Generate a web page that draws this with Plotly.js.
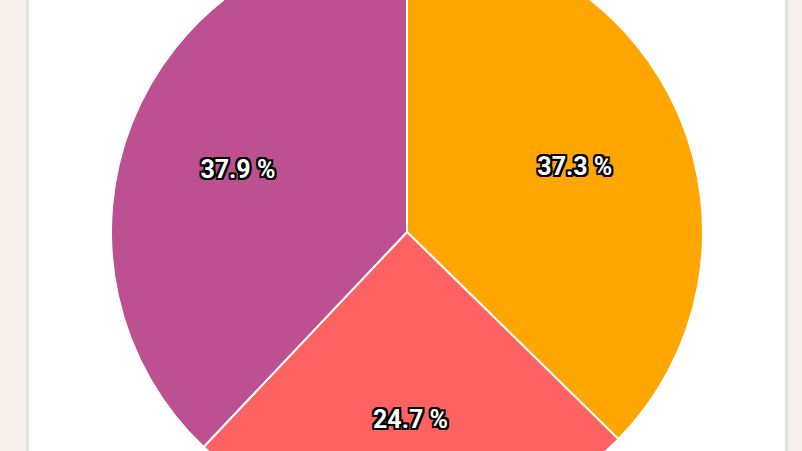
<!DOCTYPE html>
<html>
<head>
<meta charset="utf-8">
<script src="https://cdn.plot.ly/plotly-3.0.1.min.js"></script>
<style>
    html, body { margin: 0; padding: 0; width: 802px; height: 451px; overflow: hidden; background: #f6f1ed; }
    .card {
        position: absolute; left: 26px; top: -20px; width: 756px; height: 500px;
        background: #ffffff; border-left: 3px solid #e4e1de; border-right: 3px solid #e4e1de;
        overflow: hidden;
    }
    #grafico { position: absolute; left: -177px; top: -44px; width: 1110px; height: 592px; }
    /* texto um pouco mais baixo, como no original */
    #grafico text.slicetext { translate: 0 5px; }
</style>
</head>
<body>
<div class="card"><div id="grafico"></div></div>
<script>
// Dados do gráfico
const fatias = ["A", "B", "C"];
const percentuais = [37.3, 24.7, 37.9];
const cores = ["#ffa600", "#ff6361", "#bc5090"];

//// Fatias (sem texto)
var pizza = {
    type: 'pie',
    labels: fatias,
    values: percentuais,
    sort: false,
    direction: 'clockwise',
    rotation: 0,
    marker: { colors: cores, line: { color: '#ffffff', width: 2 } },
    textinfo: 'none',
    showlegend: false
};

//// Rótulos: mesma pizza transparente com furo, empurra o texto para fora
var rotulos = {
    type: 'pie',
    labels: fatias,
    values: percentuais,
    sort: false,
    direction: 'clockwise',
    rotation: 0,
    hole: 0.23,
    marker: { colors: cores.map(c => 'rgba(0,0,0,0)'), line: { width: 0 } },
    texttemplate: '%{value:.1f} %',
    textposition: 'inside',
    insidetextorientation: 'horizontal',
    textfont: {
        family: 'Roboto, Arial, sans-serif',
        size: 25,
        weight: 700,
        color: '#ffffff',
        shadow: '-2px -2px 0 #000, 2px -2px 0 #000, -2px 2px 0 #000, 2px 2px 0 #000, 0 2px 0 #000, 0 -2px 0 #000, 2px 0 0 #000, -2px 0 0 #000'
    },
    showlegend: false
};

var layout = {
    margin: { l: 0, r: 0, t: 0, b: 0 },
    paper_bgcolor: 'rgba(0,0,0,0)',
    plot_bgcolor: 'rgba(0,0,0,0)',
    showlegend: false
};

Plotly.newPlot('grafico', [pizza, rotulos], layout, { displayModeBar: false, staticPlot: true });
</script>
</body>
</html>
